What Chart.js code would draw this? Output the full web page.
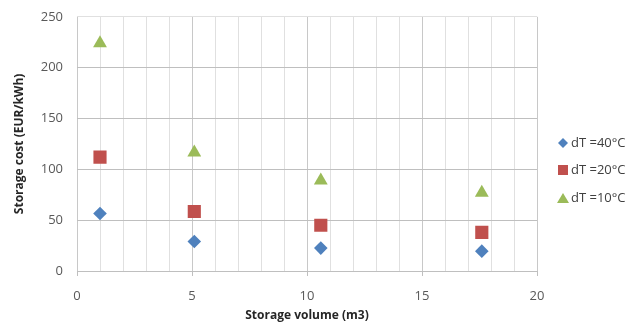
<!DOCTYPE html>
<html>
<head>
<meta charset="utf-8">
<script src="https://cdn.jsdelivr.net/npm/chart.js@4"></script>
<style>
  html, body { margin: 0; padding: 0; background: #fff; }
  #wrap { width: 643px; height: 325px; }
</style>
</head>
<body>
<div id="wrap"><canvas id="chart" width="643" height="325"></canvas></div>
<script>
// Storage volume (m3) for each point
const volumes = [1.0, 5.1, 10.6, 17.6];

// Storage cost (EUR/kWh) per temperature difference
const costDT40 = [56.5, 29, 22.5, 19.5];
const costDT20 = [112, 58.5, 45, 38];
const costDT10 = [224, 116.5, 89, 77];

const seriesLabels = ['dT =40°C', 'dT =20°C', 'dT =10°C'];
const xTicks = [0, 5, 10, 15, 20];
const yTicks = [0, 50, 100, 150, 200, 250];

const toPoints = (vals) => volumes.map((v, i) => ({ x: v, y: vals[i] }));

const FONT = '"Open Sans", "Liberation Sans", sans-serif';

// Legend drawn on the right, Excel style
const sideLegend = {
    id: 'sideLegend',
    afterDraw(chart) {
        const ctx = chart.ctx;
        const rows = [143, 170, 198];
        ctx.save();
        chart.data.datasets.forEach((ds, i) => {
            const y = rows[i];
            const x = 563;
            ctx.fillStyle = ds.backgroundColor;
            ctx.beginPath();
            if (ds.pointStyle === 'rectRot') {
                ctx.moveTo(x, y - 5); ctx.lineTo(x + 5, y); ctx.lineTo(x, y + 5); ctx.lineTo(x - 5, y);
            } else if (ds.pointStyle === 'rect') {
                ctx.rect(x - 5, y - 5, 10, 10);
            } else {
                ctx.moveTo(x, y - 5); ctx.lineTo(x + 6, y + 5); ctx.lineTo(x - 6, y + 5);
            }
            ctx.closePath();
            ctx.fill();
            ctx.fillStyle = '#404040';
            ctx.font = '13px ' + FONT;
            ctx.textBaseline = 'middle';
            ctx.fillText(ds.label, x + 8, y);
        });
        ctx.restore();
    }
};

new Chart(document.getElementById('chart'), {
    type: 'scatter',
    data: {
        datasets: [
            { label: seriesLabels[0], data: toPoints(costDT40), pointStyle: 'rectRot', pointRadius: 6.8, backgroundColor: '#4F81BD', borderColor: '#4F81BD', borderWidth: 0 },
            { label: seriesLabels[1], data: toPoints(costDT20), pointStyle: 'rect', pointRadius: 9.3, backgroundColor: '#C0504D', borderColor: '#C0504D', borderWidth: 0 },
            { label: seriesLabels[2], data: toPoints(costDT10), pointStyle: 'triangle', pointRadius: 8, backgroundColor: '#9BBB59', borderColor: '#9BBB59', borderWidth: 0 }
        ]
    },
    options: {
        responsive: false,
        animation: false,
        layout: { padding: { left: 12, right: 106, top: 8, bottom: 0 } },
        plugins: {
            legend: { display: false },
            tooltip: { enabled: false }
        },
        scales: {
            x: {
                type: 'linear',
                min: 0,
                max: 20,
                afterFit: (scale) => { scale.height = 54; },
                ticks: {
                    stepSize: 1,
                    autoSkip: false,
                    maxRotation: 0,
                    padding: 12,
                    color: '#595959',
                    font: { family: FONT, size: 13 },
                    callback: (v) => (xTicks.includes(v) ? String(v) : '')
                },
                grid: {
                    color: (c) => (c.tick && c.tick.value % 5 === 0 ? '#c8c8c8' : '#e0e0e0'),
                    tickColor: (c) => (c.tick && c.tick.value % 5 === 0 ? '#bfbfbf' : 'rgba(0,0,0,0)'),
                    tickLength: 5
                },
                border: { display: false },
                title: {
                    display: true,
                    text: 'Storage volume (m3)',
                    color: '#262626',
                    font: { family: FONT, size: 12, weight: 'bold' },
                    padding: { top: 4, bottom: 2 }
                }
            },
            y: {
                min: 0,
                max: 250,
                afterFit: (scale) => { scale.width = 65; },
                ticks: {
                    stepSize: 50,
                    padding: 9,
                    color: '#595959',
                    font: { family: FONT, size: 13 },
                    callback: (v) => (yTicks.includes(v) ? String(v) : '')
                },
                grid: {
                    color: (c) => (c.tick && c.tick.value === 250 ? '#e0e0e0' : '#bfbfbf'),
                    tickLength: 5,
                    tickColor: 'rgba(0,0,0,0)'
                },
                border: { display: false },
                title: {
                    display: true,
                    text: 'Storage cost (EUR/kWh)',
                    color: '#262626',
                    font: { family: FONT, size: 12, weight: 'bold' },
                    padding: { top: 0, bottom: 4 }
                }
            }
        }
    },
    plugins: [sideLegend]
});
</script>
</body>
</html>
